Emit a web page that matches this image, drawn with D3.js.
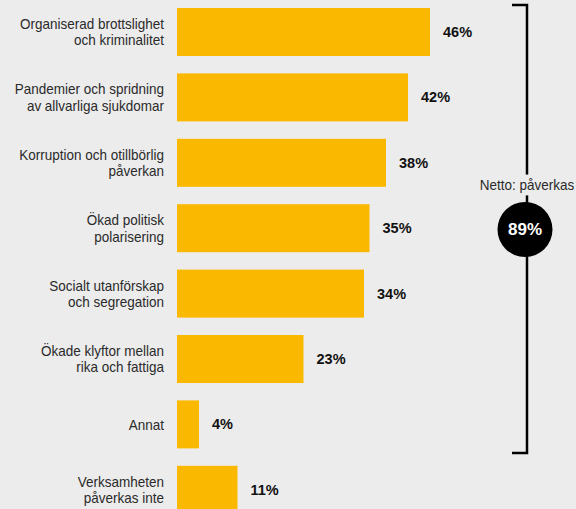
<!DOCTYPE html>
<html><head><meta charset="utf-8">
<script src="https://cdn.jsdelivr.net/npm/d3@7"></script>
<style>
html,body{margin:0;padding:0;background:#ececec;}
svg{display:block;}
</style></head>
<body><div id="chart"></div>
<script>
const categories = [
  ["Organiserad brottslighet","och kriminalitet"],
  ["Pandemier och spridning","av allvarliga sjukdomar"],
  ["Korruption och otillbörlig","påverkan"],
  ["Ökad politisk","polarisering"],
  ["Socialt utanförskap","och segregation"],
  ["Ökade klyftor mellan","rika och fattiga"],
  ["Annat"],
  ["Verksamheten","påverkas inte"]
];
const values = [46, 42, 38, 35, 34, 23, 4, 11];
const nettoLabel = "Netto: påverkas";
const nettoValue = 89;

const W = 576, H = 509;
const font = "'Liberation Sans',Arial,sans-serif";
const sx = 0.9;
const svg = d3.select("#chart").append("svg").attr("width", W).attr("height", H);
svg.append("rect").attr("width", W).attr("height", H).attr("fill", "#ececec");

const x = d3.scaleLinear().domain([0, 46]).range([177, 430]);
const y = d3.scaleBand().domain(d3.range(categories.length)).range([8, 513.8]).paddingInner(0.266).paddingOuter(0);

const g = svg.append("g");
g.selectAll("rect.bar").data(values).join("rect")
  .attr("class", "bar")
  .attr("x", x(0)).attr("y", (d, i) => y(i))
  .attr("width", d => x(d) - x(0)).attr("height", y.bandwidth())
  .attr("fill", "#fbb800");

g.selectAll("text.val").data(values).join("text")
  .attr("class", "val")
  .attr("x", d => x(d) + 13).attr("y", (d, i) => y(i) + y.bandwidth() / 2)
  .attr("dy", "0.35em")
  .attr("font-family", font).attr("font-weight", "bold")
  .attr("font-size", 14.5).attr("fill", "#111")
  .text(d => d + "%");

const lab = g.selectAll("text.lab").data(categories).join("text")
  .attr("class", "lab")
  .attr("text-anchor", "end")
  .attr("transform", `translate(164,0) scale(${sx},1)`)
  .attr("font-family", font).attr("font-size", 15).attr("fill", "#2a2a2a");
lab.each(function(lines, i) {
  const t = d3.select(this);
  const cy = y(i) + y.bandwidth() / 2;
  const lh = 16.5;
  lines.forEach((l, k) => {
    t.append("tspan").attr("x", 0)
      .attr("y", cy + (k - (lines.length - 1) / 2) * lh)
      .attr("dy", "0.35em").text(l);
  });
});

// bracket
const bx = 527, bTop = 5, bBot = 453;
svg.append("path")
  .attr("d", `M512,${bTop}H${bx}V${bBot}H512`)
  .attr("fill", "none").attr("stroke", "#000").attr("stroke-width", 2.5);

const ty = 185;
const maskRect = svg.append("rect").attr("fill", "#ececec");
const tt = svg.append("text").attr("transform", `translate(${bx},${ty}) scale(${sx},1)`)
  .attr("dy", "0.35em")
  .attr("text-anchor", "middle").attr("font-family", font).attr("font-size", 15)
  .attr("fill", "#2a2a2a").text(nettoLabel);
const bb = tt.node().getBBox();
maskRect.attr("x", bx + bb.x * sx - 2).attr("y", ty + bb.y - 2)
  .attr("width", bb.width * sx + 4).attr("height", bb.height + 4);

svg.append("circle").attr("cx", 525).attr("cy", 229.5).attr("r", 27.5).attr("fill", "#000");
svg.append("text").attr("x", 525).attr("y", 229.5).attr("dy", "0.35em")
  .attr("text-anchor", "middle").attr("font-family", font)
  .attr("font-weight", "bold").attr("font-size", 17).attr("fill", "#fff")
  .text(nettoValue + "%");
</script></body></html>
